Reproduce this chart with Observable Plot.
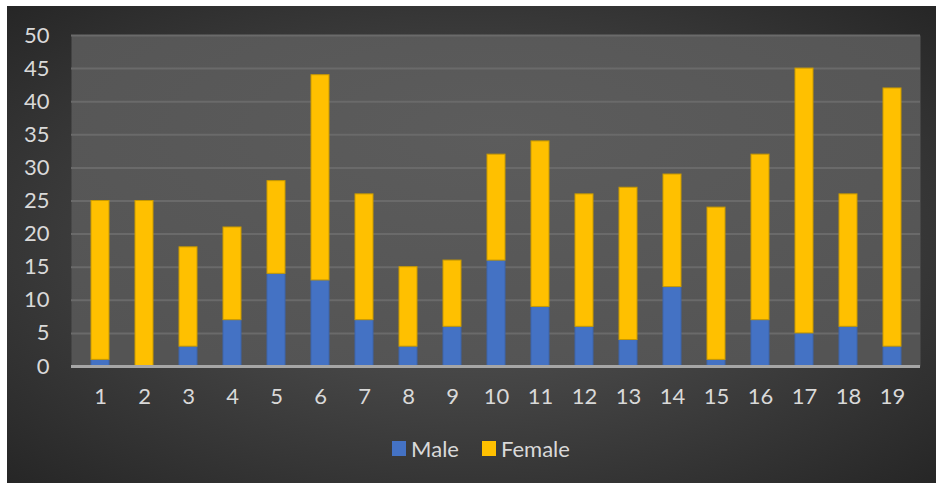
<!DOCTYPE html>
<html>
<head>
<meta charset="utf-8">
<script src="https://cdn.jsdelivr.net/npm/d3@7"></script>
<script src="https://cdn.jsdelivr.net/npm/@observablehq/plot@0.6"></script>
<style>
  html, body { margin: 0; padding: 0; background: #ffffff; width: 936px; height: 483px; overflow: hidden; }
  #bg { position: absolute; left: 7px; top: 6px; width: 929px; height: 477px;
        background: radial-gradient(ellipse farthest-corner at 50% 50%, #595959 0%, #434343 45%, #262626 100%); }
  #chart { position: absolute; left: 0; top: 0; }
  #legend { position: absolute; left: 0; top: 435px; width: 936px; display: flex; justify-content: center;
            gap: 23px; font-family: Lato, "Open Sans", sans-serif; font-size: 22px; color: #d9d9d9; padding-left: 26px; box-sizing: border-box; }
  .item { display: flex; align-items: center; gap: 5px; }
  .sw { width: 14px; height: 15px; display: inline-block; }
</style>
</head>
<body>
<div id="bg"></div>
<div id="chart"></div>
<div id="legend"></div>
<script>
const categories = [1,2,3,4,5,6,7,8,9,10,11,12,13,14,15,16,17,18,19];
const male   = [1,0,3,7,14,13,7,3,6,16,9,6,4,12,1,7,5,6,3];
const female = [24,25,15,14,14,31,19,12,10,16,25,20,23,17,23,25,40,20,39];
const seriesNames = ["Male", "Female"];
const seriesColors = ["#4472C4", "#FFC000"];
const yTicks = [0,5,10,15,20,25,30,35,40,45,50];

const rows = [];
categories.forEach((c, i) => {
  rows.push({cat: c, series: "Male", value: male[i]});
  rows.push({cat: c, series: "Female", value: female[i]});
});

const plot = Plot.plot({
  width: 936,
  height: 420,
  marginTop: 35,
  marginLeft: 71,
  marginRight: 16,
  marginBottom: 54,
  style: { background: "transparent", fontFamily: "Lato, 'Open Sans', sans-serif", fontSize: "22px", color: "#d9d9d9", overflow: "visible" },
  x: { type: "band", domain: categories, paddingInner: 0.6, paddingOuter: 0.3, label: null },
  y: { domain: [0, 50], label: null },
  color: { domain: seriesNames, range: seriesColors },
  marks: [
    Plot.frame({ fill: "url(#plotgrad)", stroke: null }),
    Plot.gridY(yTicks, { stroke: "#6a6a6a", strokeOpacity: 1, strokeWidth: 2 }),
    Plot.axisY(yTicks, { tickSize: 0, tickPadding: 22, label: null, fill: "#d9d9d9" }),
    Plot.axisX({ tickSize: 0, tickPadding: 22, label: null, fill: "#d9d9d9" }),
    Plot.barY(rows, Plot.stackY({
      x: "cat", y: "value", fill: "series", order: seriesNames,
      stroke: d => d.series === "Male" ? "#3d64ab" : "#c99a00",
      strokeWidth: 1, inset: 0,
      style: "filter: drop-shadow(0px 0px 3px rgba(0,0,0,0.55));"
    })),
    Plot.ruleY([0], { stroke: "#a6a6a6", strokeWidth: 3 })
  ]
});

// plot-area gradient
const svg = d3.select(plot);
const defs = svg.insert("defs", ":first-child");
const g = defs.append("radialGradient").attr("id", "plotgrad").attr("cx", "50%").attr("cy", "30%").attr("r", "75%");
g.append("stop").attr("offset", "0%").attr("stop-color", "#5c5c5c");
g.append("stop").attr("offset", "100%").attr("stop-color", "#545454");
document.getElementById("chart").appendChild(plot);

const legend = document.getElementById("legend");
seriesNames.forEach((name, i) => {
  const item = document.createElement("div");
  item.className = "item";
  const sw = document.createElement("span");
  sw.className = "sw";
  sw.style.background = seriesColors[i];
  const t = document.createElement("span");
  t.textContent = name;
  item.appendChild(sw);
  item.appendChild(t);
  legend.appendChild(item);
});
</script>
</body>
</html>
